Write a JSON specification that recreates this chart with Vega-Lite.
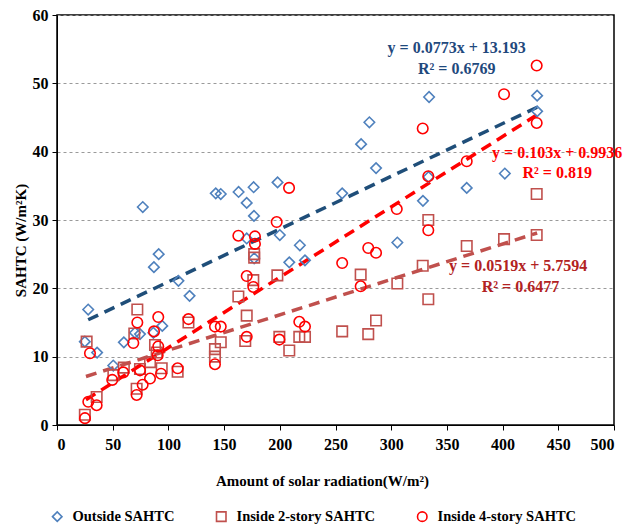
{
  "$schema": "https://vega.github.io/schema/vega-lite/v6.json",
  "autosize": {"type": "none"},
  "padding": {"left": 57, "top": 15, "right": 20, "bottom": 106},
  "width": 557,
  "height": 410,
  "background": "white",
  "config": {
    "view": {"stroke": "black", "strokeWidth": 1.5},
    "font": "Liberation Serif",
    "axis": {
      "labelFont": "Liberation Serif", "labelFontWeight": "bold", "labelFontSize": 16, "labelColor": "black",
      "titleFont": "Liberation Serif", "titleFontWeight": "bold", "titleFontSize": 15, "titleColor": "black",
      "domainColor": "black", "tickColor": "black", "tickSize": 5
    },
    "legend": {
      "labelFont": "Liberation Serif", "labelFontWeight": "bold", "labelFontSize": 15, "labelColor": "black"
    }
  },
  "datasets": {
    "pts": [
      {"series": "Outside SAHTC", "x": 28, "y": 16.9},
      {"series": "Outside SAHTC", "x": 25, "y": 12.2},
      {"series": "Outside SAHTC", "x": 36, "y": 10.6},
      {"series": "Outside SAHTC", "x": 50.5, "y": 8.7},
      {"series": "Outside SAHTC", "x": 60, "y": 12.1},
      {"series": "Outside SAHTC", "x": 70, "y": 13.5},
      {"series": "Outside SAHTC", "x": 74.5, "y": 13.3},
      {"series": "Outside SAHTC", "x": 77, "y": 31.9},
      {"series": "Outside SAHTC", "x": 86.5, "y": 13.5},
      {"series": "Outside SAHTC", "x": 87, "y": 23.1},
      {"series": "Outside SAHTC", "x": 91.3, "y": 25.0},
      {"series": "Outside SAHTC", "x": 94.5, "y": 14.5},
      {"series": "Outside SAHTC", "x": 109, "y": 21.1},
      {"series": "Outside SAHTC", "x": 119, "y": 18.9},
      {"series": "Outside SAHTC", "x": 142.5, "y": 33.9},
      {"series": "Outside SAHTC", "x": 147, "y": 33.8},
      {"series": "Outside SAHTC", "x": 163, "y": 34.1},
      {"series": "Outside SAHTC", "x": 170.3, "y": 32.5},
      {"series": "Outside SAHTC", "x": 176.5, "y": 34.8},
      {"series": "Outside SAHTC", "x": 176.8, "y": 30.6},
      {"series": "Outside SAHTC", "x": 170.3, "y": 27.3},
      {"series": "Outside SAHTC", "x": 177, "y": 24.4},
      {"series": "Outside SAHTC", "x": 198, "y": 35.5},
      {"series": "Outside SAHTC", "x": 200, "y": 27.8},
      {"series": "Outside SAHTC", "x": 208.5, "y": 23.8},
      {"series": "Outside SAHTC", "x": 218, "y": 26.3},
      {"series": "Outside SAHTC", "x": 222.6, "y": 24.1},
      {"series": "Outside SAHTC", "x": 256, "y": 33.9},
      {"series": "Outside SAHTC", "x": 273, "y": 41.1},
      {"series": "Outside SAHTC", "x": 280.4, "y": 44.3},
      {"series": "Outside SAHTC", "x": 286.4, "y": 37.6},
      {"series": "Outside SAHTC", "x": 305.5, "y": 26.7},
      {"series": "Outside SAHTC", "x": 328.5, "y": 32.8},
      {"series": "Outside SAHTC", "x": 333.5, "y": 36.3},
      {"series": "Outside SAHTC", "x": 334, "y": 48.0},
      {"series": "Outside SAHTC", "x": 367.8, "y": 34.7},
      {"series": "Outside SAHTC", "x": 402, "y": 36.8},
      {"series": "Outside SAHTC", "x": 431, "y": 48.2},
      {"series": "Outside SAHTC", "x": 431, "y": 45.9},

      {"series": "Inside 2-story SAHTC", "x": 25, "y": 1.5},
      {"series": "Inside 2-story SAHTC", "x": 35.6, "y": 4.1},
      {"series": "Inside 2-story SAHTC", "x": 26.6, "y": 12.2},
      {"series": "Inside 2-story SAHTC", "x": 50.6, "y": 7.3},
      {"series": "Inside 2-story SAHTC", "x": 60, "y": 8.4},
      {"series": "Inside 2-story SAHTC", "x": 69.4, "y": 13.4},
      {"series": "Inside 2-story SAHTC", "x": 72.1, "y": 16.9},
      {"series": "Inside 2-story SAHTC", "x": 71.5, "y": 5.3},
      {"series": "Inside 2-story SAHTC", "x": 74.5, "y": 8.2},
      {"series": "Inside 2-story SAHTC", "x": 83.5, "y": 9.2},
      {"series": "Inside 2-story SAHTC", "x": 88, "y": 11.7},
      {"series": "Inside 2-story SAHTC", "x": 89.5, "y": 10.6},
      {"series": "Inside 2-story SAHTC", "x": 94, "y": 8.3},
      {"series": "Inside 2-story SAHTC", "x": 108.3, "y": 7.8},
      {"series": "Inside 2-story SAHTC", "x": 118, "y": 15.0},
      {"series": "Inside 2-story SAHTC", "x": 141.8, "y": 11.1},
      {"series": "Inside 2-story SAHTC", "x": 141.8, "y": 10.0},
      {"series": "Inside 2-story SAHTC", "x": 147, "y": 12.1},
      {"series": "Inside 2-story SAHTC", "x": 162.8, "y": 18.8},
      {"series": "Inside 2-story SAHTC", "x": 170.3, "y": 16.0},
      {"series": "Inside 2-story SAHTC", "x": 169, "y": 12.3},
      {"series": "Inside 2-story SAHTC", "x": 176.2, "y": 21.2},
      {"series": "Inside 2-story SAHTC", "x": 177, "y": 25.0},
      {"series": "Inside 2-story SAHTC", "x": 177, "y": 24.5},
      {"series": "Inside 2-story SAHTC", "x": 197.8, "y": 21.9},
      {"series": "Inside 2-story SAHTC", "x": 199.6, "y": 12.9},
      {"series": "Inside 2-story SAHTC", "x": 208.5, "y": 10.9},
      {"series": "Inside 2-story SAHTC", "x": 217.5, "y": 12.9},
      {"series": "Inside 2-story SAHTC", "x": 222.6, "y": 12.9},
      {"series": "Inside 2-story SAHTC", "x": 256, "y": 13.7},
      {"series": "Inside 2-story SAHTC", "x": 272.6, "y": 22.0},
      {"series": "Inside 2-story SAHTC", "x": 279.4, "y": 13.3},
      {"series": "Inside 2-story SAHTC", "x": 286.4, "y": 15.3},
      {"series": "Inside 2-story SAHTC", "x": 305.5, "y": 20.7},
      {"series": "Inside 2-story SAHTC", "x": 328.3, "y": 23.3},
      {"series": "Inside 2-story SAHTC", "x": 333.3, "y": 30.0},
      {"series": "Inside 2-story SAHTC", "x": 333.3, "y": 18.4},
      {"series": "Inside 2-story SAHTC", "x": 367.8, "y": 26.2},
      {"series": "Inside 2-story SAHTC", "x": 401.3, "y": 27.2},
      {"series": "Inside 2-story SAHTC", "x": 430.6, "y": 27.8},
      {"series": "Inside 2-story SAHTC", "x": 430.6, "y": 33.8},

      {"series": "Inside 4-story SAHTC", "x": 25.1, "y": 1.0},
      {"series": "Inside 4-story SAHTC", "x": 28.1, "y": 3.4},
      {"series": "Inside 4-story SAHTC", "x": 35.6, "y": 2.9},
      {"series": "Inside 4-story SAHTC", "x": 29.6, "y": 10.5},
      {"series": "Inside 4-story SAHTC", "x": 49.6, "y": 6.6},
      {"series": "Inside 4-story SAHTC", "x": 59.5, "y": 7.7},
      {"series": "Inside 4-story SAHTC", "x": 68.5, "y": 12.0},
      {"series": "Inside 4-story SAHTC", "x": 72.1, "y": 15.0},
      {"series": "Inside 4-story SAHTC", "x": 71.5, "y": 4.4},
      {"series": "Inside 4-story SAHTC", "x": 74.5, "y": 8.0},
      {"series": "Inside 4-story SAHTC", "x": 76.9, "y": 5.9},
      {"series": "Inside 4-story SAHTC", "x": 83.5, "y": 6.8},
      {"series": "Inside 4-story SAHTC", "x": 87.1, "y": 13.7},
      {"series": "Inside 4-story SAHTC", "x": 90.9, "y": 15.8},
      {"series": "Inside 4-story SAHTC", "x": 90.9, "y": 11.5},
      {"series": "Inside 4-story SAHTC", "x": 90.4, "y": 10.2},
      {"series": "Inside 4-story SAHTC", "x": 93.4, "y": 7.5},
      {"series": "Inside 4-story SAHTC", "x": 108.3, "y": 8.3},
      {"series": "Inside 4-story SAHTC", "x": 118, "y": 15.5},
      {"series": "Inside 4-story SAHTC", "x": 141.8, "y": 14.4},
      {"series": "Inside 4-story SAHTC", "x": 147, "y": 14.4},
      {"series": "Inside 4-story SAHTC", "x": 141.8, "y": 8.9},
      {"series": "Inside 4-story SAHTC", "x": 162.8, "y": 27.7},
      {"series": "Inside 4-story SAHTC", "x": 170.3, "y": 21.8},
      {"series": "Inside 4-story SAHTC", "x": 170.3, "y": 12.9},
      {"series": "Inside 4-story SAHTC", "x": 177.7, "y": 27.6},
      {"series": "Inside 4-story SAHTC", "x": 177.7, "y": 26.5},
      {"series": "Inside 4-story SAHTC", "x": 176.2, "y": 20.2},
      {"series": "Inside 4-story SAHTC", "x": 197.2, "y": 29.7},
      {"series": "Inside 4-story SAHTC", "x": 199.6, "y": 12.5},
      {"series": "Inside 4-story SAHTC", "x": 208.3, "y": 34.7},
      {"series": "Inside 4-story SAHTC", "x": 217.5, "y": 15.1},
      {"series": "Inside 4-story SAHTC", "x": 222.6, "y": 14.4},
      {"series": "Inside 4-story SAHTC", "x": 256, "y": 23.7},
      {"series": "Inside 4-story SAHTC", "x": 272.6, "y": 20.3},
      {"series": "Inside 4-story SAHTC", "x": 279.4, "y": 25.9},
      {"series": "Inside 4-story SAHTC", "x": 286.4, "y": 25.2},
      {"series": "Inside 4-story SAHTC", "x": 305, "y": 31.6},
      {"series": "Inside 4-story SAHTC", "x": 328.3, "y": 43.4},
      {"series": "Inside 4-story SAHTC", "x": 333.3, "y": 36.4},
      {"series": "Inside 4-story SAHTC", "x": 333.3, "y": 28.5},
      {"series": "Inside 4-story SAHTC", "x": 367.8, "y": 38.6},
      {"series": "Inside 4-story SAHTC", "x": 401.3, "y": 48.4},
      {"series": "Inside 4-story SAHTC", "x": 430.6, "y": 52.6},
      {"series": "Inside 4-story SAHTC", "x": 430.6, "y": 44.2}
    ],
    "fits": [
      {"fit": "Outside", "x": 28, "y": 15.4},
      {"fit": "Outside", "x": 431, "y": 46.5},
      {"fit": "Inside 2-story", "x": 26, "y": 7.1},
      {"fit": "Inside 2-story", "x": 431, "y": 28.1},
      {"fit": "Inside 4-story", "x": 26, "y": 3.7},
      {"fit": "Inside 4-story", "x": 431, "y": 45.4}
    ],
    "notes": [
      {"fit": "Outside", "x": 358.8, "y": 55.2, "label": "y = 0.0773x + 13.193"},
      {"fit": "Outside", "x": 358.8, "y": 52.1, "label": "R² = 0.6769"},
      {"fit": "Inside 4-story", "x": 449, "y": 39.8, "label": "y = 0.103x + 0.9936"},
      {"fit": "Inside 4-story", "x": 449, "y": 36.9, "label": "R² = 0.819"},
      {"fit": "Inside 2-story", "x": 414, "y": 23.3, "label": "y = 0.0519x + 5.7594"},
      {"fit": "Inside 2-story", "x": 416, "y": 20.2, "label": "R² = 0.6477"}
    ]
  },
  "layer": [
    {
      "data": {"name": "fits"},
      "mark": {"type": "line", "strokeWidth": 3.5, "strokeDash": [11, 7]},
      "encoding": {
        "x": {"field": "x", "type": "quantitative"},
        "y": {"field": "y", "type": "quantitative"},
        "detail": {"field": "fit"},
        "color": {"field": "fit", "type": "nominal", "legend": null,
          "scale": {"domain": ["Outside", "Inside 2-story", "Inside 4-story"], "range": ["#1F4E79", "#C0504D", "#FF0000"]}}
      }
    },
    {
      "data": {"name": "pts"},
      "mark": {"type": "point", "filled": false, "strokeWidth": 1.6, "opacity": 1},
      "encoding": {
        "x": {"field": "x", "type": "quantitative",
          "scale": {"domain": [0, 500]},
          "axis": {"values": [0, 50, 100, 150, 200, 250, 300, 350, 400, 450, 500], "grid": false, "labelPadding": 6,
            "title": "Amount of solar radiation(W/m²)", "titleX": 265, "titleY": 55, "titleBaseline": "middle"}},
        "y": {"field": "y", "type": "quantitative",
          "scale": {"domain": [0, 60]},
          "axis": {"values": [0, 10, 20, 30, 40, 50, 60], "grid": true, "gridDash": [3, 3], "gridColor": "#9a9a9a", "gridWidth": 1,
            "labelPadding": 4, "title": "SAHTC (W/m²K)", "titleX": -37, "titleY": 225, "titleAngle": -90, "titleBaseline": "middle"}},
        "color": {"field": "series", "type": "nominal",
          "scale": {"domain": ["Outside SAHTC", "Inside 2-story SAHTC", "Inside 4-story SAHTC"], "range": ["#4F81BD", "#C0504D", "#FF0000"]},
          "legend": {"title": null, "orient": "none", "direction": "horizontal", "legendX": -7, "legendY": 494,
            "columnPadding": 38, "symbolSize": 90, "symbolStrokeWidth": 1.6, "labelOffset": 8, "labelFontSize": 14.5}},
        "shape": {"field": "series", "type": "nominal",
          "scale": {"domain": ["Outside SAHTC", "Inside 2-story SAHTC", "Inside 4-story SAHTC"], "range": ["diamond", "square", "circle"]}},
        "size": {"value": 110}
      }
    },
    {
      "data": {"name": "notes"},
      "mark": {"type": "text", "font": "Liberation Serif", "fontWeight": "bold", "fontSize": 16, "align": "center", "baseline": "middle"},
      "encoding": {
        "x": {"field": "x", "type": "quantitative"},
        "y": {"field": "y", "type": "quantitative"},
        "text": {"field": "label"},
        "color": {"field": "fit", "type": "nominal", "legend": null,
          "scale": {"domain": ["Outside", "Inside 2-story", "Inside 4-story"], "range": ["#1F497D", "#B22222", "#FF0000"]}}
      }
    }
  ],
  "resolve": {"scale": {"color": "independent", "shape": "independent"}}
}
